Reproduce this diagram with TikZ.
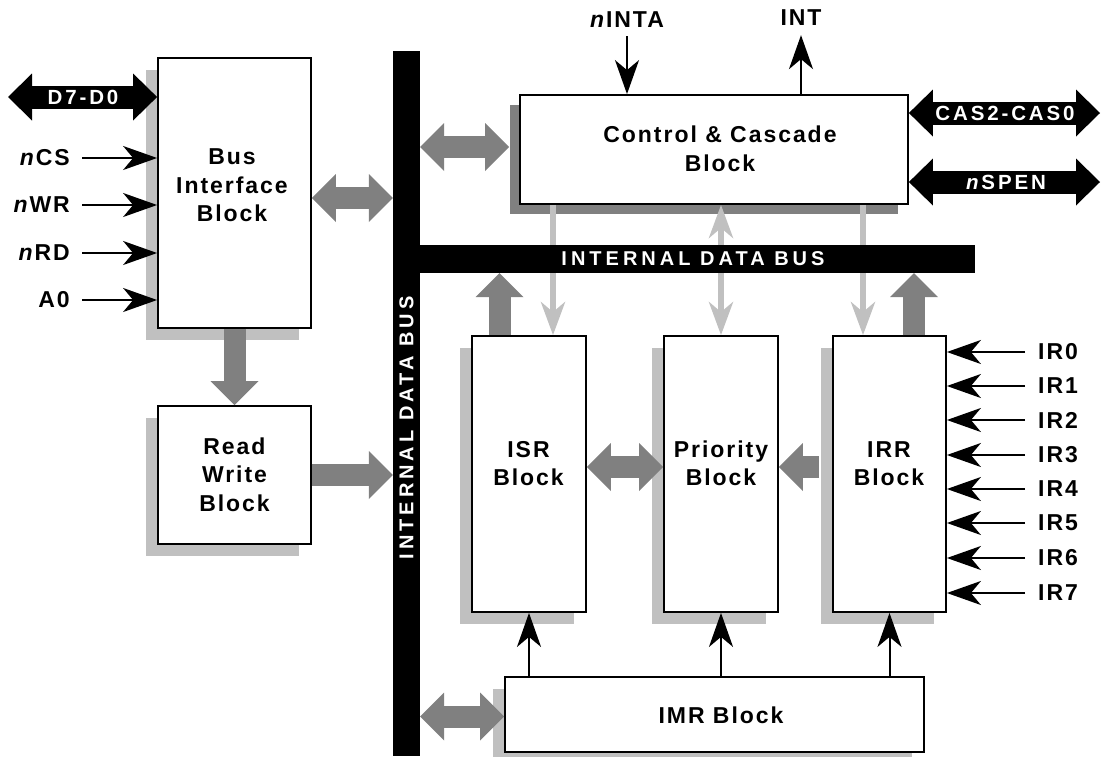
\documentclass[tikz,border=0pt]{standalone}
\usepackage{fontspec}
\usetikzlibrary{arrows.meta,shadows,calc}
\newfontfamily\blockfont{Liberation Sans}[LetterSpace=8.5]
\newfontfamily\signalfont{Liberation Sans}[LetterSpace=14]
\newfontfamily\busfont{Liberation Sans}[LetterSpace=20]
\definecolor{shadelight}{HTML}{C0C0C0}
\definecolor{shadedark}{HTML}{808080}
\begin{document}
\begin{tikzpicture}[x=1pt,y=-1pt,
  txt/.style={font=\blockfont\fontsize{23}{28.5}\selectfont\bfseries, inner sep=0pt, align=center},
  blk/.style={draw=black, line width=1.8pt, fill=white, inner sep=0pt},
  lightshade/.style={drop shadow={shadow xshift=-12pt, shadow yshift=-12pt, fill=shadelight, opacity=1}},
  darkshade/.style={drop shadow={shadow xshift=-10pt, shadow yshift=-10pt, fill=shadedark, opacity=1}},
  bar/.style={fill=black, inner sep=0pt},
  barlabel/.style={text=white, font=\busfont\fontsize{20}{24}\selectfont\bfseries, inner sep=0pt},
  portlabel/.style={text=white, font=\signalfont\fontsize{20.5}{24}\selectfont\bfseries, inner sep=0pt},
  sig/.style={line width=2pt, -{Stealth[length=34pt,width=24pt,inset=10pt]}},
  ghost/.style={draw=shadelight, line width=5.5pt},
  ghostto/.style={ghost, -{Stealth[length=33pt,width=24pt,inset=10pt]}},
  ghostboth/.style={ghost, {Stealth[length=33pt,width=24pt,inset=10pt]}-{Stealth[length=33pt,width=24pt,inset=10pt]}},
  fat/.style={draw=shadedark, line width=22pt},
  fatto/.style={fat, -{Triangle[length=24pt,width=48pt,line width=0pt]}},
  fatboth/.style={fat, {Triangle[length=24pt,width=48pt,line width=0pt]}-{Triangle[length=24pt,width=48pt,line width=0pt]}},
  port/.style={draw=black, line width=23pt, {Triangle[length=24pt,width=47pt,line width=0pt]}-{Triangle[length=24pt,width=47pt,line width=0pt]}},
]
\useasboundingbox (0,0) rectangle (1106,756);

% functional blocks with their shadows
\node[blk, lightshade, minimum width=153pt, minimum height=270pt] (bi) at (234.5,193) {};
\node[blk, lightshade, minimum width=153pt, minimum height=138pt] (rw) at (234.5,475) {};
\node[blk, darkshade, minimum width=388pt, minimum height=109pt] (ctrl) at (714,149.5) {};
\node[blk, lightshade, minimum width=114pt, minimum height=276pt] (isr) at (529,474) {};
\node[blk, lightshade, minimum width=114pt, minimum height=276pt] (pri) at (721,474) {};
\node[blk, lightshade, minimum width=113pt, minimum height=276pt] (irr) at (889.5,474) {};
\node[blk, lightshade, minimum width=419pt, minimum height=75pt] (imr) at (714.5,714.5) {};

% control lines from the control block
\coordinate (gisr) at ($(isr.north)+(24,0)$);
\coordinate (girr) at ($(irr.north)+(-26.5,0)$);
\draw[ghostto] (gisr |- ctrl.south) -- (gisr);
\draw[ghostboth] (pri.north |- ctrl.south) -- (pri.north);
\draw[ghostto] (girr |- ctrl.south) -- (girr);

% internal data bus
\node[bar, minimum width=27pt, minimum height=705pt] (vbus) at (406.5,403.5) {};
\node[bar, minimum width=569pt, minimum height=28pt] (hbus) at (690.5,259) {};
\node[barlabel, rotate=90] (vbustext) at (406.5,428) {INTERNAL DATA BUS};
\node[barlabel] (hbustext) at (693,259) {INTERNAL DATA BUS};

% data paths
\coordinate (biport) at ($(bi.east)+(0,5)$);
\draw[fatboth] (biport) -- (biport -| vbus.west);
\draw[fatto] (rw.east) -- (rw.east -| vbus.west);
\draw[fatto] (bi.south) -- (rw.north);
\coordinate (ctrlport) at ($(ctrl.west)+(-10,-2.5)$);
\draw[fatboth] (ctrlport -| vbus.east) -- (ctrlport);
\coordinate (imrport) at ($(imr.west)+(0,2)$);
\draw[fatboth] (imrport -| vbus.east) -- (imrport);
\coordinate (isrport) at ($(isr.east)+(0,-7)$);
\draw[fatboth] (isrport) -- (isrport -| pri.west);
\coordinate (irrport) at ($(irr.west)+(-13,-7)$);
\draw[fatto] (irrport) -- (irrport -| pri.east);
\coordinate (isrup) at ($(isr.north)+(-29.5,0)$);
\draw[fatto] (isrup) -- (isrup |- hbus.south);
\coordinate (irrup) at ($(irr.north)+(24.5,0)$);
\draw[fatto] (irrup) -- (irrup |- hbus.south);

% external buses
\coordinate (dport) at (8,97);
\draw[port] (dport) -- (dport -| bi.west);
\node[portlabel] (dtext) at (83,97) {D7-D0};
\coordinate (casport) at (1100,113);
\draw[port] (casport -| ctrl.east) -- (casport);
\node[portlabel] (castext) at (1005,113) {CAS2-CAS0};
\coordinate (spenport) at (1100,182);
\draw[port] (spenport -| ctrl.east) -- (spenport);
\node[portlabel] (spentext) at (1006,182) {\textit{n}SPEN};

% processor interface signals
\foreach \name/\y/\txt in {cs/158/\textit{n}CS, wr/205/\textit{n}WR, rd/253/\textit{n}RD, a0/300/A0} {
  \node[txt, anchor=east] (l\name) at (70,\y) {\txt};
  \draw[sig] ([xshift=12pt]l\name.east) -- (l\name.east -| bi.west);
}

% interrupt request inputs
\foreach \i/\y in {0/352,1/386,2/420,3/455,4/489,5/523,6/558,7/593} {
  \node[txt, anchor=west] (ir\i) at (1038,\y) {IR\i};
  \draw[sig] ([xshift=-13pt]ir\i.west) -- (ir\i.west -| irr.east);
}

% acknowledge and interrupt
\node[txt] (inta) at (627,20) {\textit{n}INTA};
\draw[sig] ([yshift=-8pt]inta.south) -- (inta.south |- ctrl.north);
\node[txt] (int) at (801,18) {INT};
\draw[sig] (int.south |- ctrl.north) -- ([yshift=-9pt]int.south);

% mask lines
\draw[sig] (isr.south |- imr.north) -- (isr.south);
\draw[sig] (pri.south |- imr.north) -- (pri.south);
\draw[sig] (irr.south |- imr.north) -- (irr.south);

% block titles
\node[txt] (bitext) at (232,185.5) {Bus\\Interface\\Block};
\node[txt] (rwtext) at (234.5,474.5) {Read\\Write\\Block};
\node[txt] (ctrltext) at (720,149) {Control \& Cascade\\Block};
\node[txt] (isrtext) at (528.5,463.5) {ISR\\Block};
\node[txt] (pritext) at (721,463.5) {Priority\\Block};
\node[txt] (irrtext) at (889,463.5) {IRR\\Block};
\node[txt] (imrtext) at (721,715) {IMR Block};
\end{tikzpicture}
\end{document}
